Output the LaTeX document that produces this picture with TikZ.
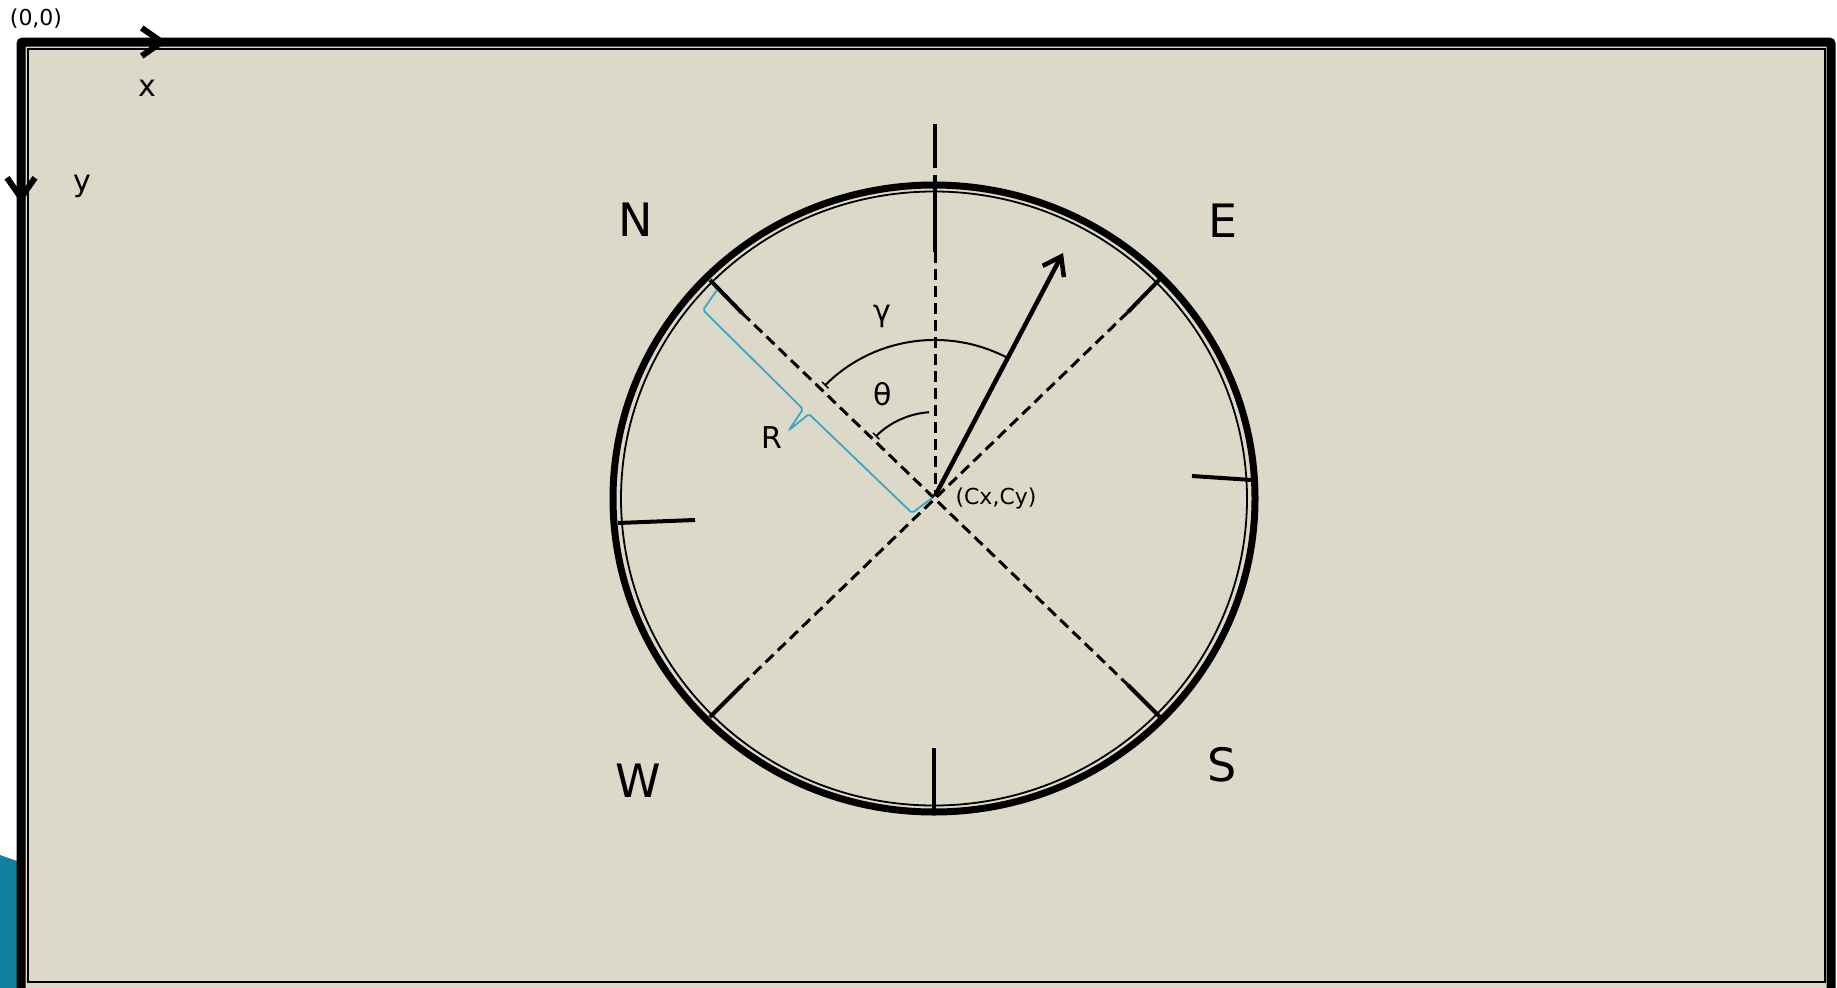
\documentclass[tikz,border=0pt]{standalone}
\usepackage{fontspec}
\setmainfont{DejaVu Sans}
\usetikzlibrary{arrows.meta}
\definecolor{bgbeige}{HTML}{DCD9C8}
\definecolor{tealshape}{HTML}{13809E}
\definecolor{bracecol}{HTML}{3DA5C6}
\begin{document}
\begin{tikzpicture}[x=1pt,y=-1pt,
  lbl/.style={inner sep=0pt, anchor=center},
  small/.style={lbl, font=\fontsize{22}{26}\selectfont},
  mid/.style={lbl, font=\fontsize{30}{34}\selectfont},
  big/.style={lbl, font=\fontsize{46}{52}\selectfont},
  tickline/.style={line width=4pt},
  dashline/.style={line width=3pt, dash pattern=on 11pt off 6pt},
  anglearc/.style={line width=2pt, {Bar[width=9pt,line width=1.5pt]}-},
  barb/.style={-{Straight Barb[length=20pt,width=28pt,line width=6pt]}}
]
\useasboundingbox (0,0) rectangle (1837,988);
\fill[white] (0,0) rectangle (1837,988);
\fill[tealshape] (0,855) -- (17,861) -- (17,988) -- (0,988) -- cycle;
% frame
\draw[line width=9pt, fill=bgbeige, rounded corners=2pt] (21,42) rectangle (1831,998);
\draw[line width=1.8pt] (28,49) rectangle (1825,982);
% axes
\coordinate (O) at (21,42);
\coordinate (xtip) at (167,42);
\coordinate (ytip) at (21,203);
\draw[line width=5pt, barb] (O) -- (xtip);
\draw[line width=5pt, barb] (O) -- (ytip);
\node[small] (origin) at (36,19) {(0,0)};
\node[mid] (xlbl) at (147,88) {x};
\node[mid] (ylbl) at (82,186) {y};
% circle
\coordinate (E0) at (934,498.5);
\draw[line width=7pt] (E0) ellipse[x radius=321, y radius=313.5];
\draw[line width=1.8pt] (E0) ellipse[x radius=313, y radius=307];
\coordinate (C) at (935,496);
% ticks
\coordinate (topA) at (935,124); \coordinate (topB) at (935,168);
\coordinate (topC) at (935,175); \coordinate (topD) at (935,252);
\draw[tickline] (topA) -- (topB);
\draw[tickline] (topC) -- (topD);
\coordinate (botA) at (934,748); \coordinate (botB) at (934,810);
\draw[tickline] (botA) -- (botB);
\coordinate (rA) at (1192,476); \coordinate (rB) at (1252,480);
\draw[tickline] (rA) -- (rB);
\coordinate (lA) at (618,523); \coordinate (lB) at (695,520);
\draw[tickline] (lA) -- (lB);
\coordinate (nwA) at (710,280); \coordinate (nwB) at (742,313);
\coordinate (neA) at (1160,279); \coordinate (neB) at (1128,312);
\coordinate (seA) at (1160,717); \coordinate (seB) at (1128,685);
\coordinate (swA) at (710,717); \coordinate (swB) at (742,685);
\draw[tickline] (nwA) -- (nwB);
\draw[tickline] (neA) -- (neB);
\draw[tickline] (seA) -- (seB);
\draw[tickline] (swA) -- (swB);
% dashed lines
\draw[dashline] (nwB) -- (seB);
\draw[dashline] (neB) -- (swB);
\draw[dashline] (topD) -- (C);
% arcs
\draw[anglearc] ([shift={(225:156)}]C) arc[start angle=225, end angle=298, radius=156];
\draw[anglearc] ([shift={(225:84)}]C) arc[start angle=225, end angle=266, radius=84];
% main arrow
\coordinate (atip) at (1063,253);
\draw[line width=4.5pt, -{Straight Barb[length=17pt,width=24pt,line width=4.5pt]}] (C) -- (atip);
% brace
\draw[bracecol, line width=1.8pt, rounded corners=2pt]
  (717,290) -- (703,310) -- (803,409) -- (789,430) -- (809,414) -- (912,513) -- (932,498);
% labels
\node[big] (N) at (636,220) {N};
\node[big] (E) at (1223,221) {E};
\node[big] (W) at (638,781) {W};
\node[big] (S) at (1222,765) {S};
\node[mid] (gam) at (882,316) {γ};
\node[mid] (the) at (883,394) {θ};
\node[mid] (R) at (772,438) {R};
\node[small] (cxy) at (996,498) {(Cx,Cy)};
\end{tikzpicture}
\end{document}
